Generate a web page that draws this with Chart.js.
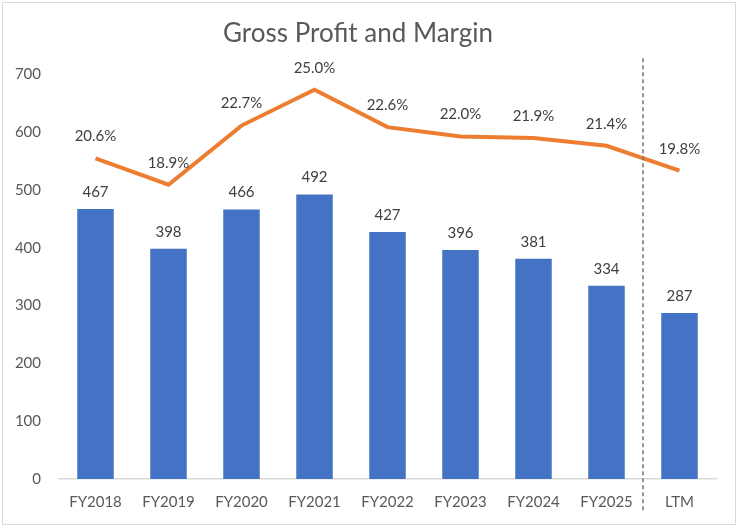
<!DOCTYPE html>
<html>
<head>
<meta charset="utf-8">
<script src="https://cdn.jsdelivr.net/npm/chart.js@4.4.1/dist/chart.umd.min.js"></script>
<style>
  html, body { margin: 0; padding: 0; background: #ffffff; }
  #wrap { position: relative; width: 738px; height: 528px; }
  #frame { position: absolute; left: 2px; top: 2px; width: 732px; height: 521px; border: 1px solid #d9d9d9; pointer-events: none; }
  canvas { position: absolute; left: 0; top: 0; }
</style>
</head>
<body>
<div id="wrap">
  <canvas id="chart" width="738" height="528"></canvas>
  <div id="frame"></div>
</div>
<script>
// data
const categories = ['FY2018', 'FY2019', 'FY2020', 'FY2021', 'FY2022', 'FY2023', 'FY2024', 'FY2025', 'LTM'];
const grossProfit = [467, 398, 466, 492, 427, 396, 381, 334, 287];
const grossMargin = [20.6, 18.9, 22.7, 25.0, 22.6, 22.0, 21.9, 21.4, 19.8];
const yTicks = [0, 100, 200, 300, 400, 500, 600, 700];

const FONT = 'Lato, "Open Sans", sans-serif';

// labels over bars and line points
const valueLabels = {
    id: 'valueLabels',
    afterDatasetsDraw(chart) {
        const ctx = chart.ctx;
        ctx.save();
        ctx.font = '15px ' + FONT;
        ctx.fillStyle = '#404040';
        ctx.textAlign = 'center';
        ctx.textBaseline = 'middle';
        chart.getDatasetMeta(0).data.forEach((bar, i) => {
            ctx.fillText(String(grossProfit[i]), bar.x, bar.y - 17);
        });
        chart.getDatasetMeta(1).data.forEach((pt, i) => {
            ctx.fillText(grossMargin[i].toFixed(1) + '%', pt.x, pt.y - 22);
        });
        ctx.restore();
    }
};

// dashed divider between the fiscal years and LTM
const ltmDivider = {
    id: 'ltmDivider',
    afterDatasetsDraw(chart) {
        const x = chart.scales.x;
        const xPos = (x.getPixelForValue(7) + x.getPixelForValue(8)) / 2;
        const area = chart.chartArea;
        const ctx = chart.ctx;
        ctx.save();
        ctx.strokeStyle = '#767171';
        ctx.lineWidth = 1.5;
        ctx.setLineDash([4, 3]);
        ctx.beginPath();
        ctx.moveTo(xPos, area.top - 16);
        ctx.lineTo(xPos, area.bottom + 33);
        ctx.stroke();
        ctx.restore();
    }
};

const config = {
    data: {
        labels: categories,
        datasets: [
            {
                type: 'bar',
                label: 'Gross Profit',
                data: grossProfit,
                backgroundColor: '#4472C4',
                borderWidth: 0,
                categoryPercentage: 1.0,
                barPercentage: 0.5,
                yAxisID: 'y',
                order: 2
            },
            {
                type: 'line',
                label: 'Gross Margin',
                data: grossMargin,
                borderColor: '#ED7D31',
                borderWidth: 4,
                pointRadius: 0,
                tension: 0,
                fill: false,
                yAxisID: 'y1',
                order: 1
            }
        ]
    },
    options: {
        responsive: false,
        animation: false,
        devicePixelRatio: 1,
        layout: { padding: { left: 0, right: 22, top: 0, bottom: 0 } },
        plugins: {
            legend: { display: false },
            tooltip: { enabled: false },
            title: {
                display: true,
                text: 'Gross Profit and Margin',
                color: '#595959',
                font: { family: FONT, size: 26, weight: 'normal' },
                padding: { top: 18, bottom: 25 }
            }
        },
        scales: {
            x: {
                grid: { display: false, drawTicks: false },
                border: { display: true, color: '#d9d9d9', width: 1.5 },
                ticks: { color: '#595959', font: { family: FONT, size: 15 }, padding: 14 },
                afterFit(scale) { scale.height = 49; }
            },
            y: {
                min: 0,
                max: 700,
                afterBuildTicks(scale) { scale.ticks = yTicks.map(v => ({ value: v })); },
                grid: { display: false, drawTicks: false },
                border: { display: false },
                ticks: { color: '#595959', font: { family: FONT, size: 15 }, padding: 18 },
                afterFit(scale) { scale.width = 59; }
            },
            y1: {
                display: false,
                position: 'right',
                min: 0,
                max: 26
            }
        }
    },
    plugins: [valueLabels, ltmDivider]
};

new Chart(document.getElementById('chart'), config);
</script>
</body>
</html>
